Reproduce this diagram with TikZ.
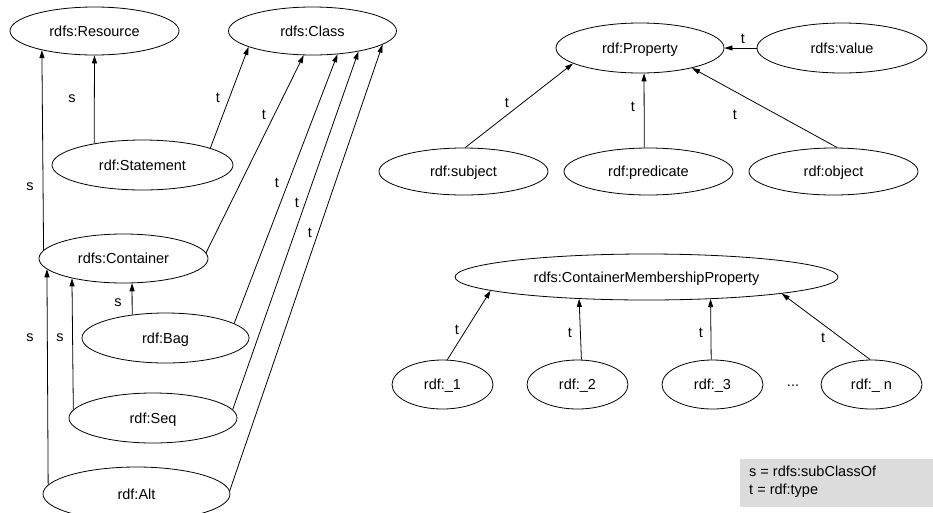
\documentclass[tikz,border=0pt]{standalone}
\usepackage{fontspec}
\setmainfont{Liberation Sans}
\usetikzlibrary{shapes.geometric,arrows.meta}
\definecolor{legendgray}{HTML}{DCDCDC}
\begin{document}
\begin{tikzpicture}[x=1pt,y=-1pt,
  every node/.style={font=\fontsize{14.5}{17}\selectfont},
  term/.style={ellipse,draw,line width=0.8pt,inner sep=0pt,
               text height=10.5pt,text depth=0pt},
  lbl/.style={inner sep=0pt},
  arr/.style={line width=0.8pt,-{Triangle[length=8pt,width=5pt]}},
  legendtext/.style={inner sep=0pt,anchor=base west,text height=10.5pt,text depth=0pt}]
\useasboundingbox (0,0) rectangle (933,512);

% class hierarchy on the left
\node[term,minimum width=169pt,minimum height=48pt] (res)  at (94.5,31)   {rdfs:Resource};
\node[term,minimum width=168pt,minimum height=48pt] (cls)  at (312.5,31)  {rdfs:Class};
\node[term,minimum width=181pt,minimum height=50pt] (stmt) at (142.5,165) {rdf:Statement};
\node[term,minimum width=169pt,minimum height=49pt] (cont) at (123.5,258.5) {rdfs:Container};
\node[term,minimum width=167pt,minimum height=50pt] (bag)  at (165.5,338) {rdf:Bag};
\node[term,minimum width=168pt,minimum height=50pt] (seq)  at (153,418)   {rdf:Seq};
\node[term,minimum width=187pt,minimum height=54pt] (alt)  at (136.5,494) {rdf:Alt};

% properties
\node[term,minimum width=168pt,minimum height=50pt] (prop) at (640,48)    {rdf:Property};
\node[term,minimum width=170pt,minimum height=50pt] (val)  at (842,48)    {rdfs:value};
\node[term,minimum width=169pt,minimum height=47pt] (subj) at (463.5,171.5) {rdf:subject};
\node[term,minimum width=169pt,minimum height=47pt] (pred) at (648.5,171.5) {rdf:predicate};
\node[term,minimum width=169pt,minimum height=47pt] (obj)  at (833.5,171.5) {rdf:object};

% container membership properties
\node[term,minimum width=383pt,minimum height=46pt] (cmp) at (646.5,277) {rdfs:ContainerMembershipProperty};
\node[term,minimum width=101pt,minimum height=49pt] (m1) at (442.5,384.5) {rdf:\_1};
\node[term,minimum width=101pt,minimum height=49pt] (m2) at (577.5,384.5) {rdf:\_2};
\node[term,minimum width=101pt,minimum height=49pt] (m3) at (712.5,384.5) {rdf:\_3};
\node[term,minimum width=101pt,minimum height=49pt] (mn) at (871.5,384.5) {rdf:\_ n};
\node[lbl] (dots) at (793,386) {...};

% subClassOf / type links, left part
\draw[arr] (stmt.156.6) -- (res.270);
\draw[arr] (cont.174.7) -- (res.200.3);
\draw[arr] (stmt.14.5)  -- (cls.194.8);
\draw[arr] (cont.4)     -- (cls.250.4);
\draw[arr] (bag.12.5)   -- (cls.317.2);
\draw[arr] (seq.6.8)    -- (cls.336.4);
\draw[arr] (alt.2.5)    -- (cls.349.9);
\draw[arr] (bag.145.65) -- (cont.289.2);
\draw[arr] (seq.174.6)  -- (cont.201.3);
\draw[arr] (alt.174.4)  -- (cont.188.3);

\node[lbl] (ls1) at (72,99)   {s};
\node[lbl] (ls2) at (30,187)  {s};
\node[lbl] (lt1) at (218,98)  {t};
\node[lbl] (lt2) at (264,115) {t};
\node[lbl] (lt3) at (277,183) {t};
\node[lbl] (lt4) at (297,203) {t};
\node[lbl] (lt5) at (310,233) {t};
\node[lbl] (ls3) at (118,303) {s};
\node[lbl] (ls4) at (60,338)  {s};
\node[lbl] (ls5) at (30,338)  {s};

% type links, right part
\draw[arr] (val.west)    -- (prop.east);
\draw[arr] (subj.86)     -- (prop.193.6);
\draw[arr] (pred.100.85) -- (prop.279.1);
\draw[arr] (obj.81.5)    -- (prop.339.7);
\draw[arr] (m1.79.5)     -- (cmp.185.9);
\draw[arr] (m2.81.85)    -- (cmp.198.25);
\draw[arr] (m3.93.5)     -- (cmp.341.4);
\draw[arr] (mn.93.5)     -- (cmp.353.4);

\node[lbl] (lt6)  at (743,39)  {t};
\node[lbl] (lt7)  at (507,103) {t};
\node[lbl] (lt8)  at (633,107) {t};
\node[lbl] (lt9)  at (735,115) {t};
\node[lbl] (lt10) at (457,330) {t};
\node[lbl] (lt11) at (570,333) {t};
\node[lbl] (lt12) at (701,333) {t};
\node[lbl] (lt13) at (823,338) {t};

% legend
\node[fill=legendgray,inner sep=0pt,anchor=north west,
      minimum width=193pt,minimum height=48pt] (legend) at (740,459) {};
\node[legendtext] (leg1) at (749,476) {s = rdfs:subClassOf};
\node[legendtext] (leg2) at (749,494) {t = rdf:type};
\end{tikzpicture}
\end{document}
